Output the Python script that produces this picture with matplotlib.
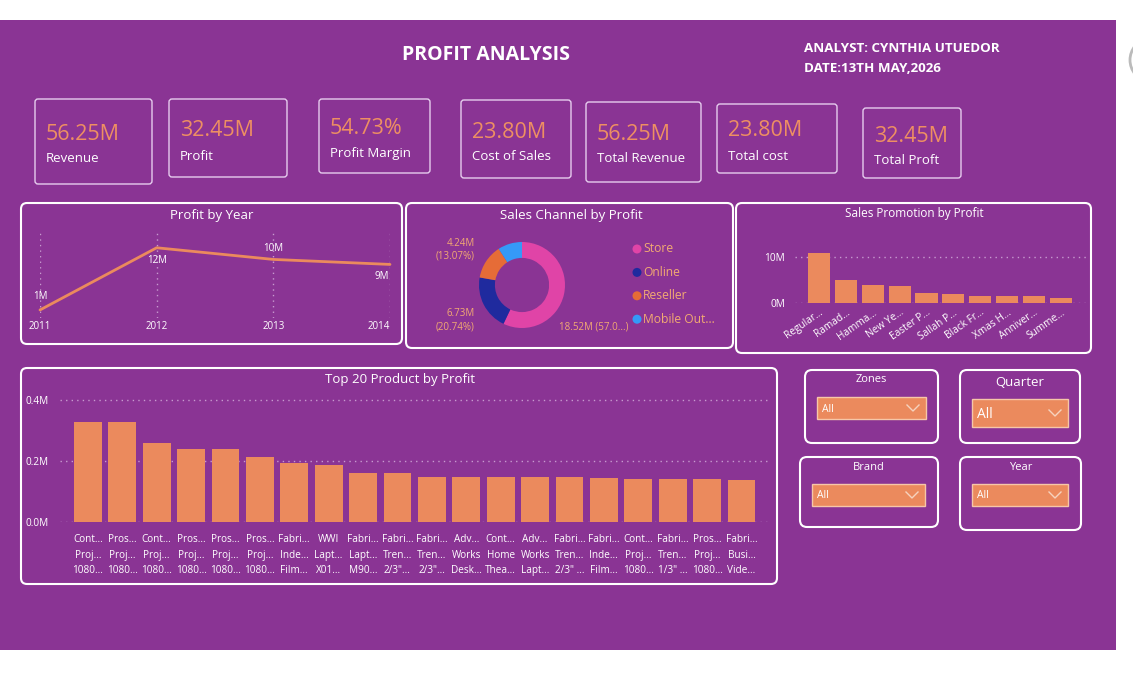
import matplotlib.pyplot as plt
from matplotlib.patches import FancyBboxPatch, Rectangle, Circle, Arc

W, H = 1133, 695

PURPLE = "#8A3494"
ORANGE = "#EB8A5D"
VALUE_ORANGE = "#EE8F62"
LABEL_ORANGE = "#F2AA72"
WHITE = "#FFFFFF"
EDGE = "#E6CDEE"
GRID = "#C79ACF"

plt.rcParams["font.family"] = ["Open Sans", "DejaVu Sans"]

# KPI cards
kpi_values = ["56.25M", "32.45M", "54.73%", "23.80M", "56.25M", "23.80M", "32.45M"]
kpi_labels = ["Revenue", "Profit", "Profit Margin", "Cost of Sales",
              "Total Revenue", "Total cost", "Total Proft"]

# Profit by year (millions)
years = [2011, 2012, 2013, 2014]
year_profit = [1.0, 12.2, 10.1, 9.2]
year_text = ["1M", "12M", "10M", "9M"]

# Sales channel by profit (millions)
channels = ["Store", "Online", "Reseller", "Mobile Out..."]
channel_profit = [18.52, 6.73, 4.24, 2.96]
channel_colors = ["#E044A7", "#1F2A9E", "#E66C37", "#3599F8"]

# Sales promotion by profit (millions)
promotions = ["Regular...", "Ramad...", "Hamma...", "New Ye...", "Easter P...",
              "Sallah P...", "Black Fr...", "Xmas H...", "Anniver...", "Summe..."]
promo_profit = [10.9, 5.0, 3.9, 3.7, 2.1, 1.9, 1.5, 1.5, 1.6, 1.1]

# Top 20 products by profit (millions)
products = [
    "Cont...\nProj...\n1080...", "Pros...\nProj...\n1080...", "Cont...\nProj...\n1080...",
    "Pros...\nProj...\n1080...", "Pros...\nProj...\n1080...", "Pros...\nProj...\n1080...",
    "Fabri...\nInde...\nFilm...", "WWI\nLapt...\nX01...", "Fabri...\nLapt...\nM90...",
    "Fabri...\nTren...\n2/3\"...", "Fabri...\nTren...\n2/3\"...", "Adv...\nWorks\nDesk...",
    "Cont...\nHome\nThea...", "Adv...\nWorks\nLapt...", "Fabri...\nTren...\n2/3\" ...",
    "Fabri...\nInde...\nFilm...", "Cont...\nProj...\n1080...", "Fabri...\nTren...\n1/3\" ...",
    "Pros...\nProj...\n1080...", "Fabri...\nBusi...\nVide...",
]
product_profit = [0.329, 0.326, 0.260, 0.240, 0.240, 0.214, 0.194, 0.188, 0.162, 0.162,
                  0.149, 0.149, 0.149, 0.149, 0.149, 0.144, 0.141, 0.141, 0.141, 0.138]

slicer_names = ["Zones", "Quarter", "Brand", "Year"]


fig = plt.figure(figsize=(W / 100, H / 100), dpi=100)
fig.patch.set_facecolor("white")

# full-figure axes in pixel coordinates for boxes and text
bg = fig.add_axes([0, 0, 1, 1])
bg.set_xlim(0, W)
bg.set_ylim(H, 0)
bg.axis("off")


def px_axes(x0, y0, x1, y1):
    ax = fig.add_axes([x0 / W, 1 - y1 / H, (x1 - x0) / W, (y1 - y0) / H])
    ax.set_facecolor("none")
    for s in ax.spines.values():
        s.set_visible(False)
    return ax


def box(x0, y0, x1, y1, ec=WHITE, lw=1.5, r=6, fc="none"):
    bg.add_patch(FancyBboxPatch((x0, y0), x1 - x0, y1 - y0,
                                boxstyle=f"round,pad=0,rounding_size={r}",
                                ec=ec, fc=fc, lw=lw))


bg.add_patch(Rectangle((0, 20), 1116, 630, fc=PURPLE, ec="none"))
bg.add_patch(Arc((1152, 60), 44, 44, theta1=140, theta2=220, color="#BBBBBB", lw=2))

bg.text(486, 55, "PROFIT ANALYSIS", color=WHITE, fontsize=14, fontweight="bold",
        ha="center", va="center")
bg.text(804, 48, "ANALYST: CYNTHIA UTUEDOR", color=WHITE, fontsize=9.6, fontweight="bold",
        va="center")
bg.text(804, 68, "DATE:13TH MAY,2026", color=WHITE, fontsize=9.6, fontweight="bold",
        va="center")

# KPI cards
card_boxes = [(35, 99, 152, 184), (169, 99, 287, 177), (319, 99, 430, 173),
              (461, 100, 571, 178), (586, 102, 701, 182), (717, 104, 837, 173),
              (863, 108, 961, 178)]
card_value_y = [134, 131, 129, 132, 134, 131, 136]
for (x0, y0, x1, y1), val, lab, vy in zip(card_boxes, kpi_values, kpi_labels, card_value_y):
    box(x0, y0, x1, y1, ec=EDGE, lw=1.0, r=3)
    bg.text(x0 + 11, vy, val, color=VALUE_ORANGE, fontsize=15.5, va="center")
    bg.text(x0 + 11, vy + 25, lab, color=WHITE, fontsize=9.5, va="center")

# panels
box(21, 203, 402, 344)
box(406, 203, 733, 348)
box(736, 203, 1091, 353)
box(21, 368, 777, 584)
bg.text(212, 215, "Profit by Year", color=WHITE, fontsize=9.5, ha="center", va="center")
bg.text(571, 215, "Sales Channel by Profit", color=WHITE, fontsize=9.5, ha="center", va="center")
bg.text(914, 213, "Sales Promotion by Profit", color=WHITE, fontsize=8.5, ha="center", va="center")
bg.text(400, 380, "Top 20 Product by Profit", color=WHITE, fontsize=9.5, ha="center", va="center")

# Profit by Year line chart
ax1 = px_axes(40, 230, 390, 318)
ax1.plot(years, year_profit, color=ORANGE, lw=2, clip_on=False, solid_capstyle="round")
ax1.set_xlim(2011, 2014)
ax1.set_ylim(-0.45, 15.4)
ax1.set_xticks(years)
ax1.set_xticklabels([str(y) for y in years])
ax1.get_xticklabels()[-1].set_horizontalalignment("right")
ax1.set_yticks([])
ax1.tick_params(axis="x", colors=WHITE, labelsize=7, length=0, pad=2)
ax1.grid(axis="x", color=GRID, linestyle=(0, (1, 3)), lw=1)
offsets = [(0, 13), (0, -13), (0, 11), (-8, -12)]
for x, y, t, off in zip(years, year_profit, year_text, offsets):
    ax1.annotate(t, (x, y), xytext=off, textcoords="offset pixels", color=WHITE,
                 fontsize=7, ha="center", va="center", annotation_clip=False)

# Sales channel donut
ax2 = px_axes(479, 242, 565, 328)
ax2.pie(channel_profit, colors=channel_colors, startangle=90, counterclock=False,
        radius=1, wedgeprops=dict(width=0.37, edgecolor="none"))
ax2.set_xlim(-1, 1)
ax2.set_ylim(-1, 1)
ax2.set_aspect("equal")
bg.text(475, 243, "4.24M", color=LABEL_ORANGE, fontsize=7, ha="right", va="center")
bg.text(475, 256, "(13.07%)", color=LABEL_ORANGE, fontsize=7, ha="right", va="center")
bg.text(475, 313, "6.73M", color=LABEL_ORANGE, fontsize=7, ha="right", va="center")
bg.text(475, 327, "(20.74%)", color=LABEL_ORANGE, fontsize=7, ha="right", va="center")
bg.text(559, 327, "18.52M (57.0...)", color=LABEL_ORANGE, fontsize=7, va="center")
for i, (name, col) in enumerate(zip(channels, channel_colors)):
    yy = 249 + i * 23.4
    bg.add_patch(Circle((637, yy), 4.5, fc=col, ec="none"))
    bg.text(643, yy, name, color=LABEL_ORANGE, fontsize=8.7, va="center")

# Sales promotion bars
ax3 = px_axes(795, 240, 1086, 303)
ax3.bar(range(len(promotions)), promo_profit, width=0.82, color=ORANGE)
ax3.set_xlim(-0.89, 9.93)
ax3.set_ylim(0, 13.7)
ax3.set_yticks([0, 10])
ax3.set_yticklabels(["0M", "10M"])
ax3.set_xticks(range(len(promotions)))
ax3.set_xticklabels(promotions, rotation=35, ha="right", rotation_mode="anchor")
ax3.tick_params(axis="y", colors=WHITE, labelsize=7.3, length=0, pad=7)
ax3.tick_params(axis="x", colors=WHITE, labelsize=7.3, length=0, pad=3)
ax3.grid(axis="y", color=GRID, linestyle=(0, (1, 3)), lw=1)
ax3.set_axisbelow(True)

# Top 20 products bars
ax4 = px_axes(60, 395, 770, 522)
ax4.bar(range(len(products)), product_profit, width=0.81, color=ORANGE)
ax4.set_xlim(-0.81, 19.83)
ax4.set_ylim(0, 0.416)
ax4.set_yticks([0, 0.2, 0.4])
ax4.set_yticklabels(["0.0M", "0.2M", "0.4M"])
ax4.set_xticks(range(len(products)))
ax4.set_xticklabels(products, linespacing=1.55)
ax4.tick_params(axis="y", colors=WHITE, labelsize=7.2, length=0, pad=8)
ax4.tick_params(axis="x", colors=WHITE, labelsize=7.2, length=0, pad=9)
ax4.grid(axis="y", color=GRID, linestyle=(0, (1, 3)), lw=1)
ax4.set_axisbelow(True)

# slicers
slicer_boxes = [(805, 370, 938, 443), (960, 370, 1080, 443),
                (800, 457, 938, 527), (960, 457, 1081, 530)]
slicer_title_y = [380, 382, 467, 467]
slicer_title_size = [8, 9.5, 8, 8]
drop_boxes = [(817, 397, 926, 419), (972, 399, 1068, 427),
              (812, 484, 925, 506), (972, 484, 1068, 506)]
all_size = [7.5, 10, 7.5, 7.5]
for name, (x0, y0, x1, y1), ty, ts, (d0, e0, d1, e1), asz in zip(
        slicer_names, slicer_boxes, slicer_title_y, slicer_title_size, drop_boxes, all_size):
    box(x0, y0, x1, y1, ec=WHITE, lw=1.5, r=7)
    bg.text((x0 + x1) / 2, ty, name, color=WHITE, fontsize=ts, ha="center", va="center")
    bg.add_patch(Rectangle((d0, e0), d1 - d0, e1 - e0, fc=ORANGE, ec="#F6C7A8", lw=1))
    bg.text(d0 + 5, (e0 + e1) / 2 + 1, "All", color=WHITE, fontsize=asz, va="center")
    cx, cy = d1 - 13, (e0 + e1) / 2
    bg.plot([cx - 6, cx, cx + 6], [cy - 3, cy + 3, cy - 3], color="#F6D3BE", lw=1)

fig.savefig("out.png", dpi=100, facecolor=fig.get_facecolor())
